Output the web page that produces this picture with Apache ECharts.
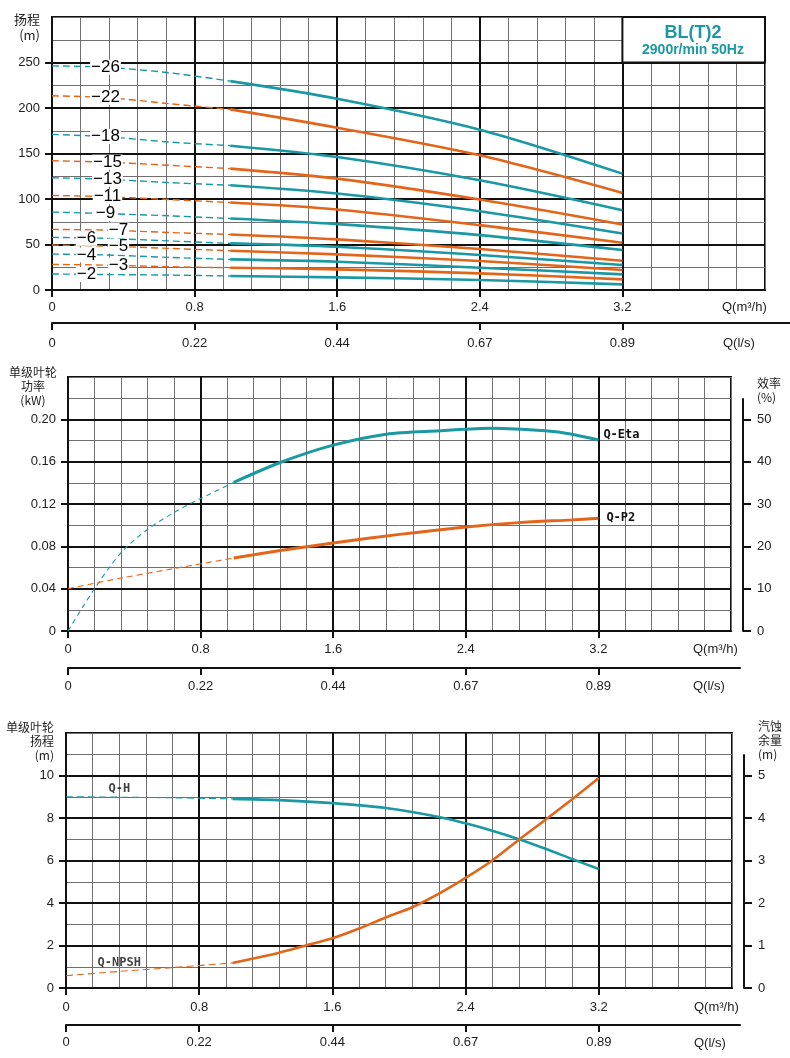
<!DOCTYPE html>
<html><head><meta charset="utf-8">
<script src="https://cdn.jsdelivr.net/npm/echarts@6/dist/echarts.min.js"></script>
<style>html,body{margin:0;padding:0;background:#fff}#c{width:790px;height:1058px}</style>
</head><body><div id="c"></div>
<script>
// ---------------- DATA ----------------
// Top chart: pump head (m) for each number of stages, vs flow Q (m³/h)
const stages = [26, 22, 18, 15, 13, 11, 9, 7, 6, 5, 4, 3, 2];
const dashQ = [0, 0.3, 0.66, 1.0];           // dashed (out of range) part
const solidQ = [1.0, 1.6, 2.4, 3.2];         // solid (working range) part
const dashHeads = [
  [246.3, 244.8, 238.7, 229.5],
  [213.4, 211.5, 204.7, 198.5],
  [171.0, 168.5, 162.6, 158.6],
  [142.0, 140.5, 137.0, 133.4],
  [123.4, 121.8, 118.0, 115.1],
  [104.0, 102.5, 99.4, 96.1],
  [85.6, 84.0, 81.5, 78.6],
  [66.6, 65.8, 63.2, 61.0],
  [57.8, 56.8, 53.9, 51.2],
  [49.4, 48.3, 45.7, 43.1],
  [39.5, 38.5, 35.8, 33.6],
  [28.2, 27.3, 25.6, 24.5],
  [17.6, 17.0, 16.4, 15.4]
];
const solidHeads = [
  [229.5, 210.2, 176.2, 127.9],
  [198.5, 178.4, 148.0, 106.7],
  [158.6, 146.2, 120.6, 87.7],
  [133.4, 122.4, 99.4, 72.0],
  [115.1, 106.0, 86.6, 62.1],
  [96.1, 88.5, 71.3, 51.9],
  [78.6, 72.4, 60.3, 43.9],
  [61.0, 55.6, 45.0, 32.2],
  [51.2, 47.5, 38.4, 27.4],
  [43.1, 39.1, 31.8, 21.9],
  [33.6, 31.0, 24.5, 17.2],
  [24.5, 22.7, 18.3, 11.7],
  [15.4, 13.9, 11.0, 6.2]
];
const titleBoxQ = [3.2, 4.0];
const titleBoxH = [250, 300];

// Middle chart: efficiency (%) and power P2 (kW)
const etaDashQ = [0, 0.16, 0.32, 0.48, 0.64, 0.8, 1.0];
const etaDash = [0, 10, 18.5, 24, 28, 31.3, 35.1];
const etaQ = [1.0, 1.28, 1.6, 1.92, 2.24, 2.56, 2.88, 3.04, 3.2];
const eta = [35.1, 39.8, 43.9, 46.5, 47.3, 47.9, 47.3, 46.5, 45.1];
const p2DashQ = [0, 0.32, 0.64, 1.0];
const p2Dash = [0.040, 0.050, 0.059, 0.069];
const p2Q = [1.0, 1.28, 1.6, 2.0, 2.4, 2.72, 3.04, 3.2];
const p2 = [0.069, 0.076, 0.0832, 0.0913, 0.0983, 0.1024, 0.105, 0.1065];

// Bottom chart: single-stage head (m) and NPSH (m)
const hDashQ = [0, 0.32, 0.64, 1.0];
const hDash = [9.0, 8.98, 8.95, 8.9];
const hQ = [1.0, 1.28, 1.6, 1.92, 2.24, 2.4, 2.56, 2.72, 2.88, 3.04, 3.2];
const hVals = [8.9, 8.84, 8.7, 8.47, 8.05, 7.75, 7.4, 7.0, 6.55, 6.07, 5.6];
const npshDashQ = [0, 0.32, 0.64, 1.0];
const npshDash = [0.29, 0.39, 0.48, 0.59];
const npshQ = [1.0, 1.28, 1.44, 1.6, 1.76, 1.92, 2.08, 2.24, 2.4, 2.56, 2.72, 2.88, 3.04, 3.2];
const npsh = [0.59, 0.83, 1.0, 1.17, 1.4, 1.66, 1.9, 2.22, 2.59, 3.0, 3.49, 3.96, 4.44, 4.94];

// Tick labels
const flowTicks = [0, 0.8, 1.6, 2.4, 3.2];
const flowLabels = ['0', '0.8', '1.6', '2.4', '3.2'];
const lsLabels = ['0', '0.22', '0.44', '0.67', '0.89'];
const headTicks = [0, 50, 100, 150, 200, 250];
const headLabels = ['0', '50', '100', '150', '200', '250'];
const powerTicks = [0, 0.04, 0.08, 0.12, 0.16, 0.20];
const powerLabels = ['0', '0.04', '0.08', '0.12', '0.16', '0.20'];
const effTicks = [0, 10, 20, 30, 40, 50];
const effLabels = ['0', '10', '20', '30', '40', '50'];
const stageHTicks = [0, 2, 4, 6, 8, 10];
const stageHLabels = ['0', '2', '4', '6', '8', '10'];
const npshTicks = [0, 1, 2, 3, 4, 5];
const npshLabels = ['0', '1', '2', '3', '4', '5'];

// ---------------- STYLE ----------------
const TEAL = '#1a98a3', ORANGE = '#e2651a', INK = '#111', GRAY = '#707070';
const NUM_FONT = '"Liberation Sans", Arial, sans-serif';
const CJK_FONT = '"Noto Sans CJK SC", sans-serif';
const MONO_FONT = '"DejaVu Sans Mono", monospace';

function labelFor(ticks, labels, v) {
  const i = ticks.findIndex(t => Math.abs(t - v) < 1e-6);
  return i < 0 ? '' : labels[i];
}
const txt = { fontSize: 13, fontFamily: NUM_FONT, color: '#222' };

function minorAxis(g, max, interval) {
  return { gridIndex: g, type: 'value', min: 0, max: max, interval: interval, z: 0,
    axisLine: { show: false }, axisTick: { show: false }, axisLabel: { show: false },
    splitLine: { show: true, lineStyle: { color: GRAY, width: 1 } } };
}
function majorX(g, margin) {
  return { gridIndex: g, type: 'value', min: 0, max: 4, interval: 0.8, z: 1, position: 'bottom',
    axisLine: { show: true, onZero: false, lineStyle: { color: INK, width: 2 } },
    axisTick: { show: true, length: 7, customValues: flowTicks, lineStyle: { color: INK, width: 2 } },
    axisLabel: Object.assign({ show: true, customValues: flowTicks, margin: margin,
      formatter: v => labelFor(flowTicks, flowLabels, v) }, txt),
    splitLine: { show: true, lineStyle: { color: INK, width: 2 } } };
}
function lsX(g, max, margin) {
  return { gridIndex: g, type: 'value', min: 0, max: max, interval: 0.8, position: 'bottom',
    axisLine: { show: true, onZero: false, lineStyle: { color: INK, width: 2 } },
    axisTick: { show: true, length: 7, customValues: flowTicks, lineStyle: { color: INK, width: 2 } },
    axisLabel: Object.assign({ show: true, customValues: flowTicks, margin: margin,
      formatter: v => labelFor(flowTicks, lsLabels, v) }, txt),
    splitLine: { show: false } };
}
function majorY(g, max, interval, ticks, labels) {
  return { gridIndex: g, type: 'value', min: 0, max: max, interval: interval, z: 1, position: 'left',
    axisLine: { show: true, onZero: false, lineStyle: { color: INK, width: 2 } },
    axisTick: { show: true, length: 7, customValues: ticks, lineStyle: { color: INK, width: 2 } },
    axisLabel: Object.assign({ show: true, customValues: ticks, margin: 12,
      formatter: v => labelFor(ticks, labels, v) }, txt),
    splitLine: { show: true, lineStyle: { color: INK, width: 2 } } };
}
function rightY(g, max, interval, ticks, labels) {
  return { gridIndex: g, type: 'value', min: 0, max: max, interval: interval, position: 'right',
    axisLine: { show: true, onZero: false, lineStyle: { color: INK, width: 2 } },
    axisTick: { show: true, length: 8, customValues: ticks, lineStyle: { color: INK, width: 2 } },
    axisLabel: Object.assign({ show: true, customValues: ticks, margin: 14,
      formatter: v => labelFor(ticks, labels, v) }, txt),
    splitLine: { show: false } };
}
function hidden(g, max) { return { gridIndex: g, type: 'value', min: 0, max: max, show: false }; }

function line(xs, ys, xi, yi, color, dashed, width, extra) {
  return Object.assign({ type: 'line', xAxisIndex: xi, yAxisIndex: yi,
    data: xs.map((q, j) => [q, ys[j]]), smooth: 0.3,
    showSymbol: false, symbol: 'none', silent: true, z: dashed ? 3 : 4,
    lineStyle: { color: color, width: width, type: dashed ? [7, 4] : 'solid' } }, extra || {});
}

// layout (pixels)
const G0 = { left: 52, top: 17, width: 713, height: 273 };
const G2 = { left: 68, top: 377, width: 663, height: 254 };
const G5 = { left: 66, top: 733, width: 666, height: 255 };
const effAxisTop = 399, npshAxisTop = 755;

const grids = [
  Object.assign({ show: true, borderColor: INK, borderWidth: 2 }, G0),                 // 0 top main
  { left: G0.left, top: G0.top, width: 738, height: 306 },                              // 1 top l/s axis
  Object.assign({ show: true, borderColor: INK, borderWidth: 2 }, G2),                 // 2 middle main
  { left: G2.left, top: G2.top, width: 672, height: 291 },                              // 3 middle l/s
  { left: 700, top: effAxisTop, width: 43, height: G2.top + G2.height - effAxisTop },  // 4 eff axis
  Object.assign({ show: true, borderColor: INK, borderWidth: 2 }, G5),                 // 5 bottom main
  { left: G5.left, top: G5.top, width: 674, height: 292 },                              // 6 bottom l/s
  { left: 700, top: npshAxisTop, width: 44, height: G5.top + G5.height - npshAxisTop } // 7 npsh axis
];
const pxPerQ0 = G0.width / 4, pxPerQ2 = G2.width / 4, pxPerQ5 = G5.width / 4;
const effMax = 60 * grids[4].height / G2.height;
const npshMax = 6 * grids[7].height / G5.height;

const xAxes = [
  minorAxis(0, 4, 0.16),                                     // 0
  majorX(0, 11),                                             // 1
  lsX(1, grids[1].width / pxPerQ0, 14),                      // 2
  minorAxis(2, 4, 0.16),                                     // 3
  majorX(2, 12),                                             // 4
  lsX(3, grids[3].width / pxPerQ2, 12),                      // 5
  hidden(4, 1),                                              // 6
  minorAxis(5, 4, 0.16),                                     // 7
  majorX(5, 13),                                             // 8
  lsX(6, grids[6].width / pxPerQ5, 11),                      // 9
  hidden(7, 1)                                               // 10
];
const yAxes = [
  minorAxis(0, 300, 25),                                     // 0
  majorY(0, 300, 50, headTicks, headLabels),                 // 1
  hidden(1, 1),                                              // 2
  minorAxis(2, 0.24, 0.02),                                  // 3
  majorY(2, 0.24, 0.04, powerTicks, powerLabels),            // 4
  hidden(2, 60),                                             // 5 efficiency scale
  hidden(3, 1),                                              // 6
  rightY(4, effMax, 10, effTicks, effLabels),                // 7
  minorAxis(5, 12, 1),                                       // 8
  majorY(5, 12, 2, stageHTicks, stageHLabels),               // 9
  hidden(5, 6),                                              // 10 NPSH scale
  hidden(6, 1),                                              // 11
  rightY(7, npshMax, 1, npshTicks, npshLabels)               // 12
];

// ---------------- SERIES ----------------
const series = [];
const labelShift = { 7: 13, 5: 13, 3: 13, 6: -19, 4: -19, 2: -19, 15: 2, 13: 2, 11: 2 };
stages.forEach((s, i) => {
  const color = i % 2 === 0 ? TEAL : ORANGE;
  series.push(line(dashQ, dashHeads[i], 1, 1, color, true, 1.4));
  const solid = line(solidQ, solidHeads[i], 1, 1, color, false, 2.6);
  if (i === 0) {
    solid.markArea = { silent: true, z: 1,
      itemStyle: { color: '#fff', borderColor: INK, borderWidth: 2 },
      data: [[{ coord: [titleBoxQ[0], titleBoxH[0]] }, { coord: [titleBoxQ[1], titleBoxH[1]] }]] };
  }
  series.push(solid);
});
// stage labels, one on each dashed curve (at its second point)
series.push({ type: 'scatter', xAxisIndex: 1, yAxisIndex: 1, z: 10, silent: true,
  symbol: 'circle', symbolSize: 1, itemStyle: { color: '#fff', opacity: 1 },
  label: { show: true, position: 'inside', fontSize: 17, fontFamily: NUM_FONT, color: '#000',
    textBorderWidth: 0, backgroundColor: '#fff', lineHeight: 15, padding: [0, 1],
    formatter: p => '\u2212' + stages[p.dataIndex] },
  data: stages.map((s, i) => ({ value: [dashQ[1], dashHeads[i][1]],
    label: { offset: [labelShift[s] || 0, 0] } })) });

// middle
series.push(line(etaDashQ, etaDash, 4, 5, TEAL, true, 1.1, { lineStyle: { color: TEAL, width: 1.1, type: [5, 4] } }));
series.push(line(etaQ, eta, 4, 5, TEAL, false, 3, { endLabel: { show: true, formatter: 'Q-Eta', distance: 5,
  offset: [0, -5], fontSize: 12, fontWeight: 'bold', fontFamily: MONO_FONT, color: '#111' } }));
series.push(line(p2DashQ, p2Dash, 4, 4, ORANGE, true, 1.1, { lineStyle: { color: ORANGE, width: 1.1, type: [6, 4] } }));
series.push(line(p2Q, p2, 4, 4, ORANGE, false, 3, { endLabel: { show: true, formatter: 'Q-P2', distance: 8,
  fontSize: 12, fontWeight: 'bold', fontFamily: MONO_FONT, color: '#111' } }));

// bottom
series.push(line(hDashQ, hDash, 8, 9, TEAL, true, 1.1, { lineStyle: { color: TEAL, width: 1.1, type: [7, 4] } }));
series.push(line(hQ, hVals, 8, 9, TEAL, false, 2.6));
series.push(line(npshDashQ, npshDash, 8, 10, ORANGE, true, 1.1, { lineStyle: { color: ORANGE, width: 1.1, type: [7, 4] } }));
series.push(line(npshQ, npsh, 8, 10, ORANGE, false, 2.6));
const curveLabel = { show: true, position: 'top', distance: 2, fontSize: 12, fontWeight: 'bold',
  fontFamily: MONO_FONT, color: '#111' };
series.push({ type: 'scatter', xAxisIndex: 8, yAxisIndex: 9, z: 10, silent: true, symbolSize: 1,
  itemStyle: { color: 'rgba(0,0,0,0)' },
  label: Object.assign({ formatter: 'Q-H' }, curveLabel),
  data: [[hDashQ[1], hDash[1]]] });
series.push({ type: 'scatter', xAxisIndex: 8, yAxisIndex: 10, z: 10, silent: true, symbolSize: 1,
  itemStyle: { color: 'rgba(0,0,0,0)' },
  label: Object.assign({ formatter: 'Q-NPSH' }, curveLabel),
  data: [[npshDashQ[1], npshDash[1]]] });

// ---------------- AXIS TITLES ----------------
function gtext(text, x, y, align, size, lh, font) {
  return { type: 'text', x: x, y: y, z: 100, silent: true,
    style: { text: text, align: align, verticalAlign: 'top', fontSize: size, lineHeight: lh,
      fontFamily: font || CJK_FONT, fill: '#222' } };
}

const chart = echarts.init(document.getElementById('c'), null, { renderer: 'canvas' });
chart.setOption({
  animation: false,
  backgroundColor: '#fff',
  title: { text: 'BL(T)2', subtext: '2900r/min 50Hz', left: 693, top: 24, padding: 0, itemGap: 1,
    textAlign: 'center', z: 20,
    textStyle: { color: TEAL, fontSize: 18, fontWeight: 'bold', fontFamily: NUM_FONT, lineHeight: 18 },
    subtextStyle: { color: TEAL, fontSize: 14, fontWeight: 'bold', fontFamily: NUM_FONT, lineHeight: 14 } },
  grid: grids,
  xAxis: xAxes,
  yAxis: yAxes,
  series: series,
  graphic: [
    gtext('扬程\n(m)', 40, 11, 'right', 13, 16),
    gtext('单级叶轮\n功率\n(kW)', 33, 365, 'center', 12, 14),
    gtext('效率\n(%)', 757, 376, 'left', 12, 14),
    gtext('单级叶轮\n扬程\n(m)', 54, 720, 'right', 12, 14),
    gtext('汽蚀\n余量\n(m)', 758, 719, 'left', 12, 14),
    gtext('Q(m³/h)', 722, 300, 'left', 13, 15, NUM_FONT),
    gtext('Q(l/s)', 723, 336, 'left', 13, 15, NUM_FONT),
    gtext('Q(m³/h)', 693, 642, 'left', 13, 15, NUM_FONT),
    gtext('Q(l/s)', 693, 679, 'left', 13, 15, NUM_FONT),
    gtext('Q(m³/h)', 694, 1000, 'left', 13, 15, NUM_FONT),
    gtext('Q(l/s)', 694, 1036, 'left', 13, 15, NUM_FONT)
  ]
});
</script></body></html>
